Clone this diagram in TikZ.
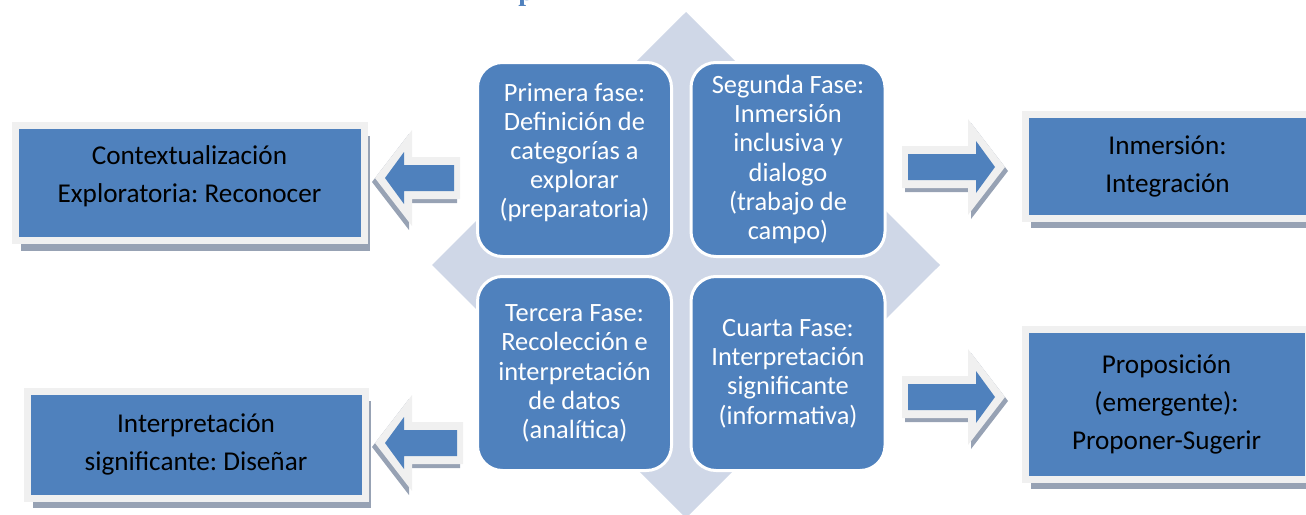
\documentclass[tikz,border=0pt]{standalone}
\usepackage{fontspec}
\setmainfont{Carlito}
\newfontfamily\titlefont{Liberation Serif}
\usetikzlibrary{shadows}
\frenchspacing
\definecolor{fillblue}{HTML}{4F81BD}
\definecolor{diamondgrey}{HTML}{CFD7E7}
\definecolor{framegrey}{HTML}{F0F0F0}
\definecolor{shadowgrey}{HTML}{97A2B4}
\tikzset{
  phase/.style={rounded corners=12.5pt, fill=fillblue, draw=white, line width=1.5pt,
    text=white, align=center, minimum width=97pt, minimum height=97pt,
    font=\fontsize{13.2}{14.6}\selectfont},
  result/.style={fill=fillblue, draw=framegrey, line width=3.5pt, align=center,
    font=\fontsize{13.6}{19}\selectfont,
    general shadow={fill=shadowgrey, shadow xshift=3pt, shadow yshift=-5pt}},
  arrowshade/.style={fill=shadowgrey},
  arrowframe/.style={fill=framegrey},
  arrowbody/.style={fill=fillblue},
}
\begin{document}
\begin{tikzpicture}[x=0.5pt,y=-0.5pt]
\useasboundingbox (0,0) rectangle (1306,514);
% background diamond
\fill[diamondgrey] (686,12) -- (940,265) -- (686,518) -- (432,265) -- cycle;
% the four phases
\node[phase, text depth=9pt] (p1) at (574.5,159.5) {Primera fase:\\Definición de\\categorías a\\explorar\\(preparatoria)};
\node[phase] (p2) at (788,159.5) {Segunda Fase:\\Inmersión\\inclusiva y\\dialogo\\(trabajo de\\campo)};
\node[phase] (p3) at (574.5,373.5) {Tercera Fase:\\Recolección e\\interpretación\\de datos\\(analítica)};
\node[phase] (p4) at (788,373.5) {Cuarta Fase:\\Interpretación\\significante\\(informativa)};
% outcomes
\node[result, text depth=9pt, minimum width=174.5pt, minimum height=57.5pt] (c1) at (189.5,183) {Contextualización\\Exploratoria: Reconocer};
\node[result, minimum width=142.5pt, minimum height=52pt] (c2) at (1167.5,166) {Inmersión:\\Integración};
\node[result, minimum width=169pt, minimum height=53.5pt] (c3) at (196,444.5) {Interpretación\\significante: Diseñar};
\node[result, minimum width=141.5pt, minimum height=75pt] (c4) at (1166.5,404) {Proposición\\(emergente):\\Proponer-Sugerir};
% block arrows (tip x / tip y / direction / length)
\foreach \tx/\ty/\dir/\len in {375/178/-1/85, 375/443/-1/88, 1005/167/1/103, 1005/397/1/103}
{
  \begin{scope}[shift={(\tx,\ty)}, xscale=\dir]
    \fill[arrowshade, shift={(3,4)}] (0,0) -- (-37,-48) -- (-37,-21) -- (-\len,-21) -- (-\len,21) -- (-37,21) -- (-37,48) -- cycle;
    \fill[arrowframe] (0,0) -- (-37,-48) -- (-37,-21) -- (-\len,-21) -- (-\len,21) -- (-37,21) -- (-37,48) -- cycle;
    \fill[arrowbody] (-10,0) -- (-29,-26) -- (-29,-13) -- ({-\len+6},-13) -- ({-\len+6},13) -- (-29,13) -- (-29,26) -- cycle;
  \end{scope}
}
% cut-off title
\node[anchor=base west, inner sep=0pt, text=fillblue, font=\titlefont\bfseries\fontsize{14}{16}\selectfont] (title) at (518,0) {p};
\end{tikzpicture}
\end{document}
